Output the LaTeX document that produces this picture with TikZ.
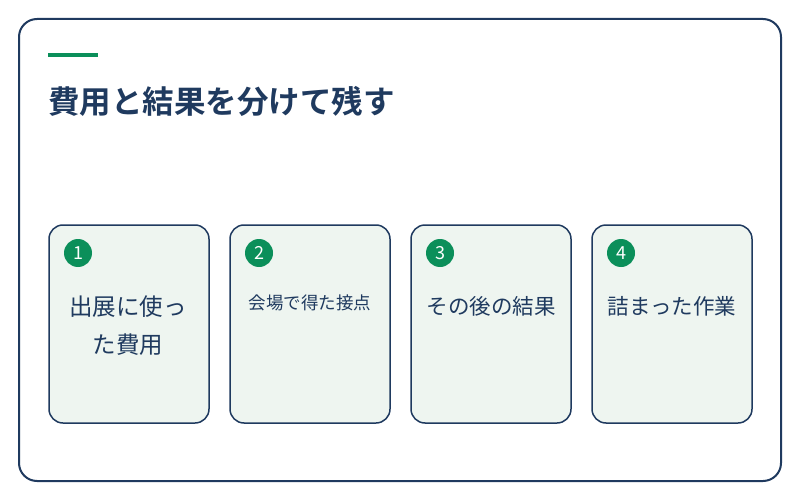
\documentclass[tikz,border=0pt]{standalone}
\usepackage{fontspec}
\newfontfamily\cjk{Noto Sans CJK JP}
\newfontfamily\cjkb{Noto Sans CJK JP Bold}
\definecolor{navy}{HTML}{1F3A5F}
\definecolor{grn}{HTML}{0B8F5A}
\definecolor{cardbg}{HTML}{EEF5F0}
\begin{document}
\begin{tikzpicture}[x=1pt,y=-1pt,
  card/.style={draw=navy,line width=1.5pt,fill=cardbg,rounded corners=14pt},
  num/.style={circle,fill=grn,text=white,minimum size=28pt,inner sep=0pt,font=\cjk\fontsize{18}{18}\selectfont},
  lab/.style={text=navy,align=center}]
\useasboundingbox (0,0) rectangle (800,500);
\draw[draw=navy,line width=2pt,fill=white,rounded corners=18pt] (19,19) rectangle (781,481);
\fill[grn] (48,53) rectangle (98,57);
\node[anchor=west,text=navy,font=\cjkb\fontsize{31.5}{31.5}\selectfont,inner sep=0pt] (title) at (48,101) {費用と結果を分けて残す};
\foreach \i/\x in {1/49,2/230,3/411,4/592}{
  \draw[card] (\x,225) rectangle (\x+160,423);
  \node[num] (n\i) at (\x+29,253) {\i};
}
\node[lab,font=\cjk\fontsize{23.5}{38}\selectfont] (t1) at (128,326) {出展に使っ\\た費用};
\node[lab,font=\cjk\fontsize{17.5}{17.5}\selectfont] (t2) at (310,303) {会場で得た接点};
\node[lab,font=\cjk\fontsize{21.5}{21.5}\selectfont] (t3) at (491,306) {その後の結果};
\node[lab,font=\cjk\fontsize{21.5}{21.5}\selectfont] (t4) at (672,306) {詰まった作業};
\end{tikzpicture}
\end{document}
